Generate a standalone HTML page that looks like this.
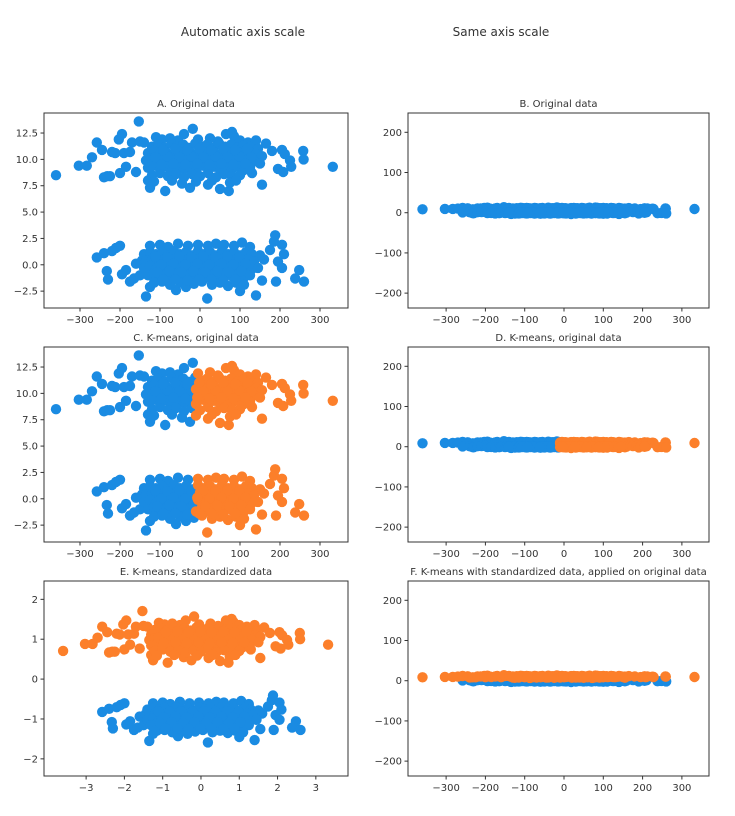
<!DOCTYPE html>
<html><head><meta charset="utf-8">
<style>
body{margin:0;background:#fff;font-family:"Liberation Sans","DejaVu Sans",sans-serif;}
svg text{font-family:"DejaVu Sans","Liberation Sans",sans-serif;fill:#333;}
</style></head>
<body>
<svg id="fig" width="735" height="811" viewBox="0 0 735 811" xmlns="http://www.w3.org/2000/svg">
<rect width="735" height="811" fill="#fff"/>
<text x="243" y="36" font-size="12" text-anchor="middle">Automatic axis scale</text>
<text x="501" y="36" font-size="12" text-anchor="middle">Same axis scale</text>
</svg>
<script>
const topCluster = "-360,8.5 -303,9.4 -283,9.4 -270,10.2 -258,11.6 -245,10.9 -240,8.3 -232,8.4 -225,8.4 -220,10.7 -212,10.6 -200,8.7 -203,11.9 -195,12.4 -190,10.6 -185,9.3 -175,10.7 -170,11.6 -160,8.8 -153,13.6 -150,11.7 -140,11.6 -130,8.0 -125,7.3 -87,7.0 -45,7.7 -25,7.3 -18,12.9 20,7.6 50,7.2 72,7.0 80,12.6 130,8.7 155,7.6 165,11.5 180,10.8 195,9.1 205,10.9 212,10.5 208,8.8 225,9.9 228,9.3 258,10.8 259,10.0 332,9.3 " +
"-110,12.1 -95,11.9 -75,12.0 -55,11.8 -40,12.4 -5,11.9 25,12.0 45,11.7 65,12.4 85,12.2 100,11.8 120,11.6 140,11.8 " +
"-120,11.2 -105,11.4 -90,11.1 -72,11.5 -58,11.2 -42,11.4 -28,11.1 -12,11.5 3,11.2 18,11.4 33,11.1 48,11.5 63,11.2 78,11.4 93,11.1 108,11.3 125,11.2 145,11.0 " +
"-130,10.6 -115,10.8 -100,10.5 -85,10.7 -70,10.4 -55,10.8 -40,10.5 -25,10.7 -10,10.4 5,10.8 20,10.5 35,10.7 50,10.4 65,10.8 80,10.5 95,10.7 110,10.4 125,10.7 140,10.5 155,10.3 " +
"-135,9.9 -120,10.1 -105,9.8 -90,10.0 -75,9.7 -60,10.1 -45,9.8 -30,10.0 -15,9.7 0,10.1 15,9.8 30,10.0 45,9.7 60,10.1 75,9.8 90,10.0 105,9.7 120,10.0 135,9.8 150,9.6 " +
"-130,9.2 -115,9.4 -100,9.1 -85,9.3 -70,9.0 -55,9.4 -40,9.1 -25,9.3 -10,9.0 5,9.4 20,9.1 35,9.3 50,9.0 65,9.4 80,9.1 95,9.3 110,9.0 125,9.2 " +
"-120,8.5 -100,8.7 -80,8.4 -60,8.6 -40,8.3 -20,8.6 0,8.4 20,8.7 40,8.3 60,8.6 80,8.4 100,8.5 -115,7.9 -70,8.0 -10,7.9 30,8.0 75,7.8 90,8.0 " +
"-112,10.2 -82,10.3 -52,10.2 -22,10.3 8,10.2 38,10.3 68,10.2 98,10.3 128,10.2 -97,9.5 -67,9.6 -37,9.5 -7,9.6 23,9.5 53,9.6 83,9.5 113,9.6 -92,10.9 -62,11.0 -32,10.9 -2,11.0 28,10.9 58,11.0 88,10.9 118,11.0";
const bottomCluster = "-258,0.7 -240,1.1 -233,-0.6 -230,-1.4 -220,1.3 -210,1.6 -200,1.8 -195,-0.9 -185,-0.5 -175,-1.6 -165,-1.3 -135,-3.0 -125,-2.1 -60,-2.4 18,-3.2 100,-2.5 140,-2.9 155,-1.5 160,0.5 175,1.4 185,2.2 188,2.8 190,-1.6 195,0.3 205,1.9 210,1.0 205,-0.3 238,-1.3 248,-0.5 260,-1.6 -160,0.1 -150,-1.0 -145,0.4 " +
"-125,1.8 -100,1.9 -80,1.7 -55,2.0 -30,1.8 -5,1.9 20,1.8 40,2.0 60,1.9 85,1.8 105,2.1 125,1.7 " +
"-140,1.0 -125,1.2 -110,1.0 -95,1.2 -80,0.9 -65,1.3 -50,1.0 -35,1.2 -20,0.9 -5,1.3 10,1.0 25,1.2 40,0.9 55,1.3 70,1.0 85,1.2 100,0.9 115,1.2 130,1.0 150,0.9 " +
"-135,0.4 -120,0.5 -105,0.3 -90,0.5 -75,0.2 -60,0.6 -45,0.3 -30,0.5 -15,0.2 0,0.6 15,0.3 30,0.5 45,0.2 60,0.6 75,0.3 90,0.5 105,0.2 120,0.5 135,0.3 " +
"-140,-0.3 -125,-0.1 -110,-0.4 -95,-0.2 -80,-0.5 -65,-0.1 -50,-0.4 -35,-0.2 -20,-0.5 -5,-0.1 10,-0.4 25,-0.2 40,-0.5 55,-0.1 70,-0.4 85,-0.2 100,-0.5 115,-0.2 130,-0.4 145,-0.3 " +
"-130,-1.0 -115,-0.8 -100,-1.1 -85,-0.9 -70,-1.2 -55,-0.8 -40,-1.1 -25,-0.9 -10,-1.2 5,-0.8 20,-1.1 35,-0.9 50,-1.2 65,-0.8 80,-1.1 95,-0.9 110,-1.2 125,-1.0 " +
"-115,-1.7 -95,-1.6 -75,-1.9 -50,-1.7 -35,-2.1 -15,-1.8 5,-1.6 30,-1.9 50,-1.7 70,-2.0 90,-1.7 110,-1.9 " +
"-112,0.8 -82,0.7 -52,0.8 -22,0.7 8,0.8 38,0.7 68,0.8 98,0.7 -97,0.0 -67,0.1 -37,0.0 -7,0.1 23,0.0 53,0.1 83,0.0 113,0.1 -107,-0.7 -77,-0.6 -47,-0.7 -17,-0.6 13,-0.7 43,-0.6 73,-0.7 103,-0.6 -92,-1.4 -62,-1.4 -32,-1.5 -2,-1.4 28,-1.4 58,-1.5 88,-1.4";
const kmeansSplitX = -10;
const stdMeanX = 0, stdScaleX = 100, stdMeanY = 4.9, stdScaleY = 5.1;
const ticksLeftY = [-2.5, 0, 2.5, 5, 7.5, 10, 12.5];
const ticksLeftYLabels = ["−2.5","0.0","2.5","5.0","7.5","10.0","12.5"];
const ticksX = [-300,-200,-100,0,100,200,300];
const ticksXLabels = ["−300","−200","−100","0","100","200","300"];
const ticksSameY = [-200,-100,0,100,200];
const ticksSameYLabels = ["−200","−100","0","100","200"];
const ticksStdX = [-3,-2,-1,0,1,2,3];
const ticksStdXLabels = ["−3","−2","−1","0","1","2","3"];
const ticksStdY = [-2,-1,0,1,2];
const ticksStdYLabels = ["−2","−1","0","1","2"];

function parse(s){return s.trim().split(/\s+/).map(p=>p.split(',').map(Number));}
const T = parse(topCluster), B = parse(bottomCluster);
const all = T.concat(B);

const BLUE="#1a8be2", ORANGE="#fc7f2a";
const NS="http://www.w3.org/2000/svg";
const svg=document.getElementById('fig');
function el(tag,attrs,parent){const e=document.createElementNS(NS,tag);for(const k in attrs)e.setAttribute(k,attrs[k]);(parent||svg).appendChild(e);return e;}

function panel(opt){
  const g=el('g',{});
  
  
  const {x0,y0,w,h,xd,yd}=opt;
  const X=v=>x0+(v-xd[0])/(xd[1]-xd[0])*w;
  const Y=v=>y0+h-(v-yd[0])/(yd[1]-yd[0])*h;
  const t=el('text',{x:x0+w/2,y:y0-6,'font-size':10,'text-anchor':'middle'},g);
  t.textContent=opt.title;
  
  
  const pts=el('g',{},g);
  
  
  opt.series.forEach(s=>{
    s.pts.forEach(p=>{
      const c=el('circle',{cx:X(p[0]).toFixed(1),cy:Y(p[1]).toFixed(1),r:5.2,fill:s.color},pts);
      
      
    });
  });
  const fr=el('rect',{x:x0,y:y0,width:w,height:h,fill:'none',stroke:'#333','stroke-width':1},g);
  
  
  opt.xt.forEach((v,i)=>{
    const px=X(v);
    el('line',{x1:px,x2:px,y1:y0+h,y2:y0+h+3.5,stroke:'#333'},g);
    const tx=el('text',{x:px,y:y0+h+15,'font-size':10,'text-anchor':'middle'},g);
    tx.textContent=opt.xl[i];
    
    
  });
  opt.yt.forEach((v,i)=>{
    const py=Y(v);
    el('line',{x1:x0-3.5,x2:x0,y1:py,y2:py,stroke:'#333'},g);
    const ty=el('text',{x:x0-6,y:py+3.5,'font-size':10,'text-anchor':'end'},g);
    ty.textContent=opt.yl[i];
    
    
  });
}
const tops=[113,347,581], H=195;
const L={x0:44,w:304,xd:[-390,370]}, R={x0:408,w:301,xd:[-397,369]};
const leftYd=[-4.1,14.4], sameYd=[-237,248];
const blueK=all.filter(p=>p[0]<kmeansSplitX), orangeK=all.filter(p=>p[0]>=kmeansSplitX);
const std=p=>[(p[0]-stdMeanX)/stdScaleX,(p[1]-stdMeanY)/stdScaleY];

panel({name:'panel-a',title:'A. Original data',...L,y0:tops[0],h:H,yd:leftYd,series:[{pts:all,color:BLUE}],xt:ticksX,xl:ticksXLabels,yt:ticksLeftY,yl:ticksLeftYLabels});
panel({name:'panel-b',title:'B. Original data',...R,y0:tops[0],h:H,yd:sameYd,series:[{pts:all,color:BLUE}],xt:ticksX,xl:ticksXLabels,yt:ticksSameY,yl:ticksSameYLabels});
panel({name:'panel-c',title:'C. K-means, original data',...L,y0:tops[1],h:H,yd:leftYd,series:[{pts:blueK,color:BLUE},{pts:orangeK,color:ORANGE}],xt:ticksX,xl:ticksXLabels,yt:ticksLeftY,yl:ticksLeftYLabels});
panel({name:'panel-d',title:'D. K-means, original data',...R,y0:tops[1],h:H,yd:sameYd,series:[{pts:blueK,color:BLUE},{pts:orangeK,color:ORANGE}],xt:ticksX,xl:ticksXLabels,yt:ticksSameY,yl:ticksSameYLabels});
panel({name:'panel-e',title:'E. K-means, standardized data',x0:44,w:304,xd:[-4.1,3.84],y0:tops[2],h:H,yd:[-2.43,2.46],series:[{pts:B.map(std),color:BLUE},{pts:T.map(std),color:ORANGE}],xt:ticksStdX,xl:ticksStdXLabels,yt:ticksStdY,yl:ticksStdYLabels});
panel({name:'panel-f',title:'F. K-means with standardized data, applied on original data',...R,y0:tops[2],h:H,yd:sameYd,series:[{pts:B,color:BLUE},{pts:T,color:ORANGE}],xt:ticksX,xl:ticksXLabels,yt:ticksSameY,yl:ticksSameYLabels});
</script>
</body></html>
